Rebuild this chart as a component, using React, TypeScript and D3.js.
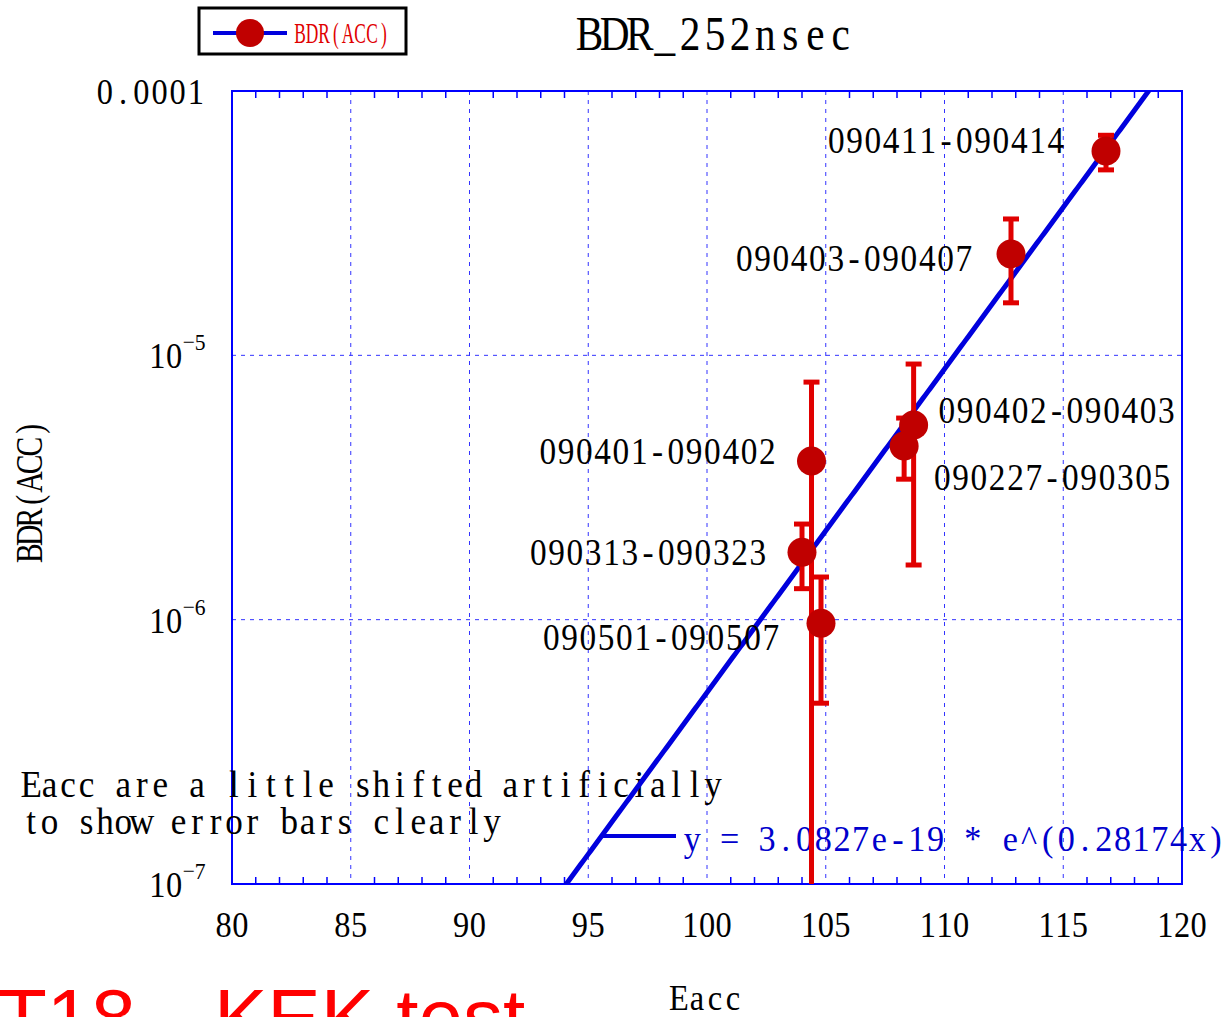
import React from "react";
import * as d3 from "d3";

const labels = ["090411-090414", "090403-090407", "090402-090403", "090227-090305", "090401-090402", "090313-090323", "090501-090507"];
const eacc = [116.8, 112.8, 108.7, 108.3, 104.4, 104.0, 104.8];
const bdr = [5.93e-5, 2.42e-5, 5.45e-6, 4.54e-6, 3.98e-6, 1.8e-6, 9.7e-7];
const errHigh = [6.8e-5, 3.28e-5, 9.27e-6, 5.79e-6, 7.92e-6, 2.3e-6, 1.45e-6];
const errLow = [5.03e-5, 1.58e-5, 1.61e-6, 3.4e-6, 1e-8, 1.31e-6, 4.83e-7];
const xTicks = [80, 85, 90, 95, 100, 105, 110, 115, 120];
const yExp = [-7, -6, -5];
const fitA = 3.0827e-19;
const fitB = 0.28174;
const fitRange = [94, 118.7];

// label layout: [dx, dy, anchor]
const labelLayout: [number, number, string][] = [
  [-41, -11, "end"],
  [-38, 4, "end"],
  [24, -15, "start"],
  [29, 31, "start"],
  [-35, -10, "end"],
  [-35, 0, "end"],
  [-41, 14, "end"],
];

const SERIF = "'Liberation Serif', 'DejaVu Serif', serif";

function MonoText({ text, x, y, cell, fs, sx = 1, anchor = "start", fill = "#000", weight = "normal" }: any) {
  const chars = Array.from(text as string);
  const total = chars.length * cell;
  const x0 = anchor === "start" ? x : anchor === "end" ? x - total : x - total / 2;
  const xs: number[] = [];
  let s = "";
  chars.forEach((c, i) => {
    if (c === " ") return;
    s += c;
    xs.push((x0 + (i + 0.5) * cell) / sx);
  });
  return (
    <text
      transform={`scale(${sx},1)`}
      x={xs.join(" ")}
      y={y}
      fontSize={fs}
      fontFamily={SERIF}
      textAnchor="middle"
      fill={fill}
      fontWeight={weight}
    >
      {s}
    </text>
  );
}

export default function App() {
  const W = 1227, H = 1017;
  const L = 232, R = 1182, T = 91, B = 884;
  const x = d3.scaleLinear().domain([80, 120]).range([L, R]);
  const y = d3.scaleLog().domain([1e-7, 1e-4]).range([B, T]);

  const fitPts = d3.range(fitRange[0], fitRange[1] + 0.001, 0.1).map((v) => [v, fitA * Math.exp(fitB * v)] as [number, number]);
  const line = d3.line<[number, number]>().x((d) => x(d[0])).y((d) => y(d[1]));

  const minorX = d3.range(81, 120).filter((v) => v % 5 !== 0);
  const gridX = xTicks.filter((v) => v > 80 && v < 120);
  const gridY = [1e-6, 1e-5];

  const annY = 836;
  const annVal = y.invert(annY);
  const annX = x(Math.log(annVal / fitA) / fitB);

  const blue = "#0000ff";
  const red = "#e00000";
  const dark = "#c00000";

  return (
    <svg width={W} height={H} style={{ position: "absolute", left: 0, top: 0 }}>
      <rect x={0} y={0} width={W} height={H} fill="#fff" />
      <defs>
        <clipPath id="plot">
          <rect x={L} y={T} width={R - L} height={B - T} />
        </clipPath>
      </defs>

      {/* legend */}
      <rect x={199} y={8} width={207} height={46} fill="#fff" stroke="#000" strokeWidth={3} />
      <line x1={213} x2={287} y1={33} y2={33} stroke="#0000dd" strokeWidth={4} />
      <circle cx={250} cy={33} r={14} fill={dark} />
      <MonoText text="BDR(ACC)" x={294} y={43} cell={12} fs={29} sx={0.6} fill={red} />

      {/* title */}
      <MonoText text="BDR_252nsec" x={577} y={50} cell={25.1} fs={48} sx={0.86} />

      {/* grid */}
      {gridX.map((v) => (
        <line key={"gx" + v} x1={x(v)} x2={x(v)} y1={T} y2={B} stroke="#3333ff" strokeWidth={1} strokeDasharray="4,5" />
      ))}
      {gridY.map((v) => (
        <line key={"gy" + v} x1={L} x2={R} y1={y(v)} y2={y(v)} stroke="#3333ff" strokeWidth={1} strokeDasharray="4,5" />
      ))}

      {/* minor ticks */}
      {minorX.map((v) => (
        <g key={"mt" + v}>
          <line x1={x(v)} x2={x(v)} y1={T} y2={T + 7} stroke={blue} strokeWidth={1.5} />
          <line x1={x(v)} x2={x(v)} y1={B} y2={B - 7} stroke={blue} strokeWidth={1.5} />
        </g>
      ))}

      {/* frame */}
      <rect x={L} y={T} width={R - L} height={B - T} fill="none" stroke={blue} strokeWidth={2} />

      {/* annotation text */}
      <MonoText text="Eacc are a little shifted artificially" x={22} y={797} cell={18.43} fs={37} sx={0.95} />
      <MonoText text="to show error bars clearly" x={22} y={834} cell={18.43} fs={37} sx={0.95} />

      {/* fit legend */}
      <line x1={annX} x2={676} y1={annY} y2={annY} stroke="#0000dd" strokeWidth={4} />
      <MonoText text="y = 3.0827e-19 * e^(0.28174x)" x={683} y={851} cell={18.7} fs={36} sx={0.95} fill="#0000cc" />

      {/* fit line */}
      <g clipPath="url(#plot)">
        <path d={line(fitPts) || ""} fill="none" stroke="#0000dd" strokeWidth={5} />
      </g>

      {/* labels */}
      {labels.map((lab, i) => {
        const [dx, dy, anc] = labelLayout[i];
        return (
          <MonoText key={lab} text={lab} x={x(eacc[i]) + dx} y={y(bdr[i]) + dy + 13} cell={18.3} fs={37} sx={0.9} anchor={anc} />
        );
      })}

      {/* error bars */}
      <g clipPath="url(#plot)">
        {eacc.map((e, i) => {
          const cx = x(e);
          const y1 = y(errHigh[i]);
          const y2 = y(errLow[i]);
          return (
            <g key={"eb" + i}>
              <line x1={cx} x2={cx} y1={y1} y2={y2} stroke={red} strokeWidth={5} />
              <line x1={cx - 8} x2={cx + 8} y1={y1} y2={y1} stroke={red} strokeWidth={5} />
              <line x1={cx - 8} x2={cx + 8} y1={y2} y2={y2} stroke={red} strokeWidth={5} />
            </g>
          );
        })}
      </g>

      {/* points */}
      {eacc.map((e, i) => (
        <circle key={"pt" + i} cx={x(e)} cy={y(bdr[i])} r={14.5} fill={dark} />
      ))}

      {/* y tick labels */}
      <MonoText text="0.0001" x={205} y={104} cell={18.2} fs={36} sx={0.9} anchor="end" />
      {yExp.map((ex) => {
        const cy = y(Math.pow(10, ex));
        return (
          <g key={"yt" + ex}>
            <MonoText text="10" x={149} y={cy + 13} cell={16.7} fs={36} sx={0.9} />
            <MonoText text={"\u2212" + Math.abs(ex)} x={183} y={cy - 5} cell={11.5} fs={24} sx={0.9} />
          </g>
        );
      })}

      {/* x tick labels */}
      {xTicks.map((v) => (
        <MonoText key={"xt" + v} text={String(v)} x={x(v)} y={937} cell={16.7} fs={36} sx={0.9} anchor="middle" />
      ))}

      {/* axis titles */}
      <g transform="translate(42,491) rotate(-90)">
        <MonoText text="BDR(ACC)" x={0} y={0} cell={17.75} fs={37} sx={0.8} anchor="middle" />
      </g>
      <MonoText text="Eacc" x={670} y={1010} cell={18} fs={36} sx={0.9} />

      {/* footer */}
      <text x={-2} y={1045} fontSize={80} fontFamily="'Liberation Sans', Arial, sans-serif" fill="#ff0000">T18</text>
      <text x={214} y={1045} fontSize={80} fontFamily="'Liberation Sans', Arial, sans-serif" fill="#ff0000">KEK test</text>
    </svg>
  );
}
